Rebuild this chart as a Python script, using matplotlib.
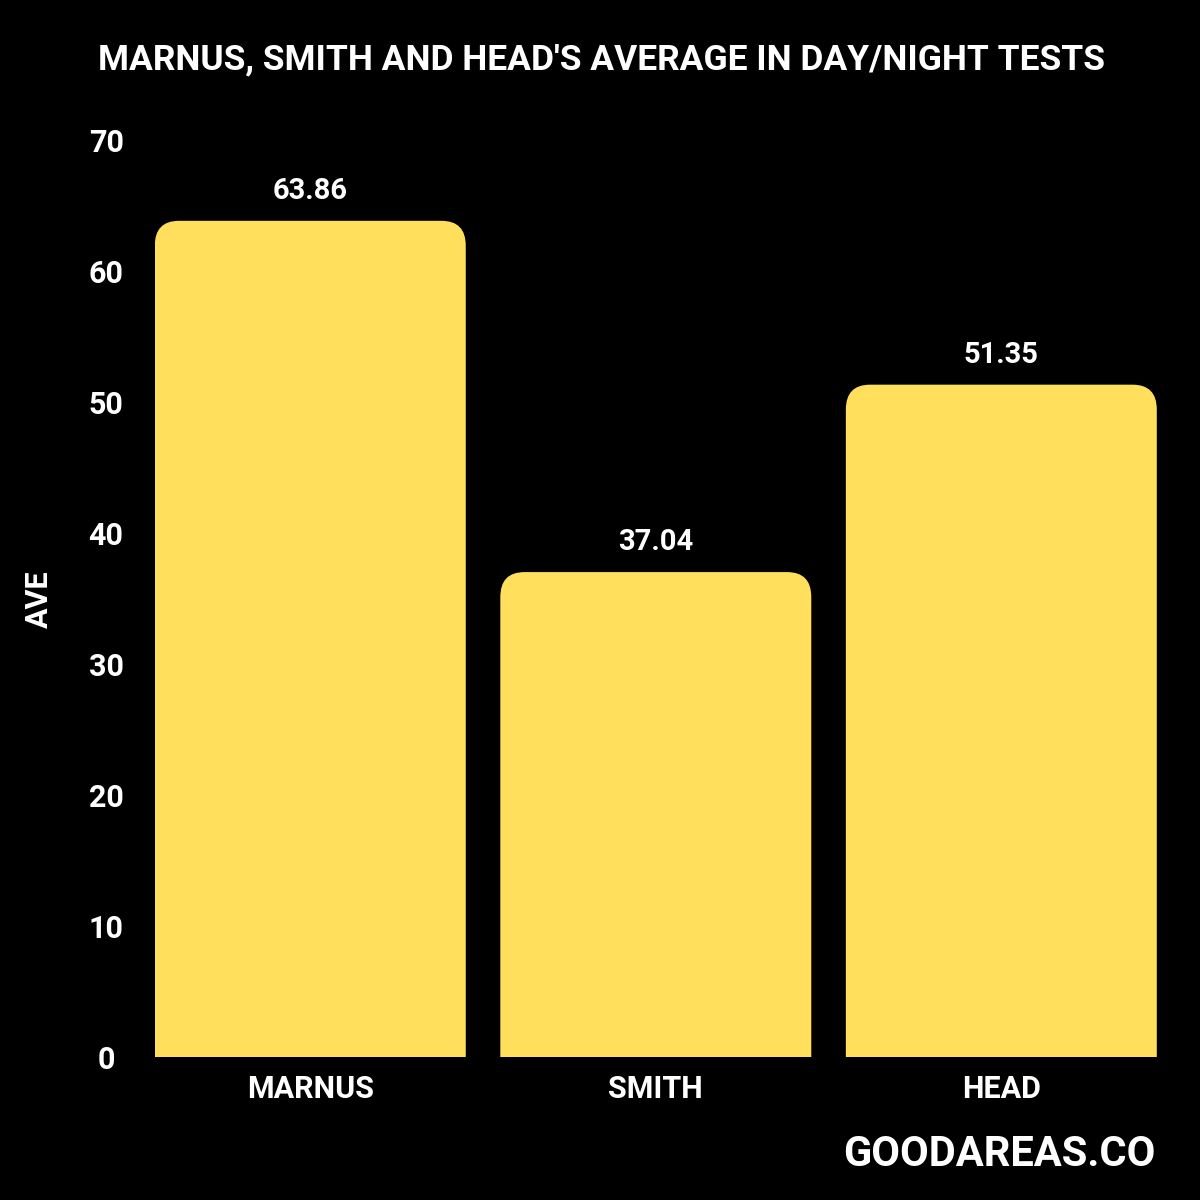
import matplotlib
matplotlib.use('Agg')
import matplotlib.pyplot as plt
from matplotlib.patches import FancyBboxPatch

players = ['MARNUS', 'SMITH', 'HEAD']
averages = [63.86, 37.04, 51.35]
yticks = [0, 10, 20, 30, 40, 50, 60, 70]

bar_color = '#FFDF5C'
plt.rcParams['font.family'] = ['Roboto', 'DejaVu Sans']

fig = plt.figure(figsize=(12, 12), dpi=100, facecolor='black')
ax = fig.add_axes([0.129, 0.119, 0.835, 0.764], facecolor='black')

width = 0.9
xs = range(len(players))
# rounded boxes that start below zero, so only the top corners show
rx, ry = 0.07, 1.9
for x, a in zip(xs, averages):
    box = FancyBboxPatch((x - width / 2 + rx, -5), width - 2 * rx, a + 5 - ry,
                         boxstyle=f'round,pad={rx}', mutation_aspect=ry / rx,
                         facecolor=bar_color, edgecolor='none', zorder=2)
    ax.add_patch(box)
    ax.text(x, a + 1.2, f'{a:.2f}', ha='center', va='bottom', color='white',
            fontsize=21, fontweight='bold')

ax.set_xlim(-0.45, 2.45)
ax.set_ylim(0, 70)
ax.set_yticks(yticks)
ax.set_xticks(list(xs))
ax.set_xticklabels(players)
ax.tick_params(colors='white', length=0, labelsize=22, pad=12)
for lab in ax.get_xticklabels() + ax.get_yticklabels():
    lab.set_fontweight('bold')
for lab in ax.get_yticklabels():
    lab.set_horizontalalignment('center')
ax.tick_params(axis='y', pad=35)
for s in ax.spines.values():
    s.set_visible(False)

ax.set_ylabel('AVE', color='white', fontsize=22, fontweight='bold', labelpad=25)
fig.text(0.082, 0.950, "MARNUS, SMITH AND HEAD'S AVERAGE IN DAY/NIGHT TESTS",
         color='white', fontsize=25.5, fontweight='bold', va='center', ha='left')
fig.text(0.963, 0.038, 'GOODAREAS.CO', color='white', fontsize=30,
         fontweight='bold', ha='right', va='center')

fig.savefig('out.png', facecolor='black')
